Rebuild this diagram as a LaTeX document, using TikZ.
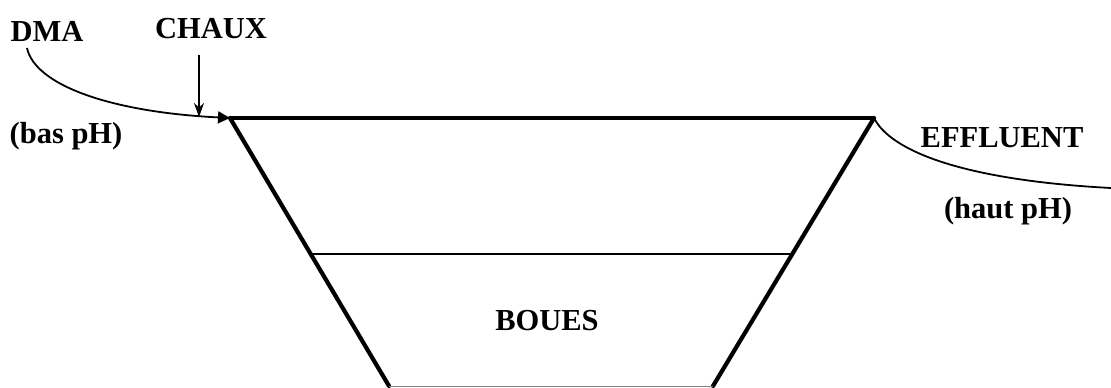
\documentclass[tikz,border=0pt]{standalone}
\usepackage{fontspec}
\setmainfont{Liberation Serif}
\usetikzlibrary{arrows.meta}
\tikzset{
  lbl/.style={font=\fontsize{30.5}{32}\selectfont\bfseries, inner sep=0pt},
  wall/.style={line width=4.2pt},
  pipe/.style={line width=1.8pt},
}
\begin{document}
\begin{tikzpicture}[x=1pt,y=-1pt]
\useasboundingbox (0,0) rectangle (1111,388);
% basin corners
\coordinate (tl) at (230,118);
\coordinate (tr) at (874,118);
\coordinate (bl) at (389,386);
\coordinate (br) at (713,386);
\coordinate (sl) at (311,254);
\coordinate (sr) at (793,254);
\coordinate (dmastart) at (27,48);
\coordinate (effend) at (1111,188);
\coordinate (chauxtop) at (199,55);
\coordinate (chauxend) at (199,117);
% basin
\draw[line width=3.2pt] (tl) -- (tr);
\draw[wall, line cap=round] (tl) -- (bl);
\draw[wall, line cap=round] (tr) -- (br);
\draw[line width=2pt] (sl) -- (sr);
\draw[line width=1pt, gray] (bl) -- (br);
% inflow
\draw[pipe, -{Triangle[length=12pt,width=12pt]}] (dmastart) .. controls (35,85) and (110,112) .. (tl);
\draw[line width=2pt, -{Stealth[length=14pt,width=10pt]}] (chauxtop) -- (chauxend);
% outflow
\draw[pipe] (tr) .. controls (890,150) and (960,180) .. (effend);
% labels
\node[lbl] (dma) at (47,31.5) {DMA};
\node[lbl] (chaux) at (211,29) {CHAUX};
\node[lbl] (bas) at (66,136) {(bas pH)};
\node[lbl] (eff) at (1002,138) {EFFLUENT};
\node[lbl] (haut) at (1008,211) {(haut pH)};
\node[lbl] (boues) at (547,321) {BOUES};
\end{tikzpicture}
\end{document}
